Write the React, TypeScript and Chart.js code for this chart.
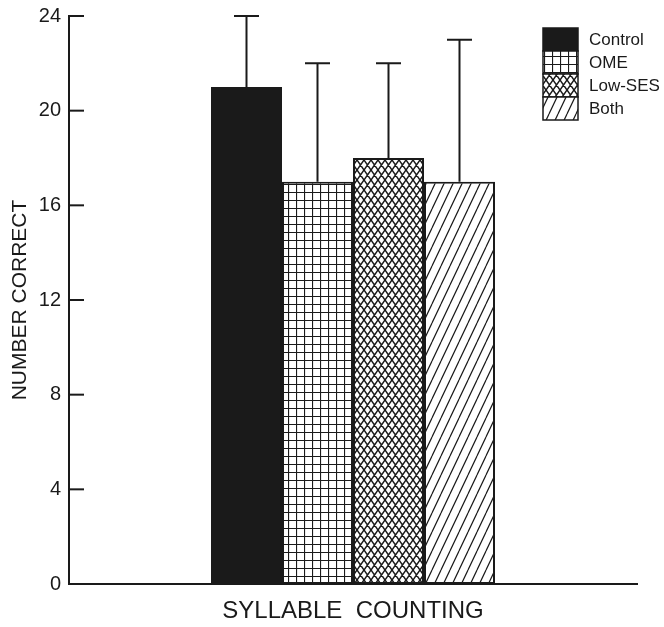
import React, { useEffect, useRef } from "react";
import { Chart, registerables } from "chart.js";

Chart.register(...registerables);

const categories = ["SYLLABLE  COUNTING"];
const groups = ["Control", "OME", "Low-SES", "Both"];
const means = [21, 17, 18, 17];
const errUpper = [3, 5, 4, 6];
const yTicks = [0, 4, 8, 12, 16, 20, 24];

const INK = "#1a1a1a";
const FONT = "'Liberation Sans', Arial, sans-serif";

function makeTile(w: number, h: number, draw: (c: CanvasRenderingContext2D) => void) {
  const cv = document.createElement("canvas");
  cv.width = w;
  cv.height = h;
  const c = cv.getContext("2d")!;
  c.fillStyle = "#fff";
  c.fillRect(0, 0, w, h);
  c.strokeStyle = INK;
  draw(c);
  return cv;
}

function makePatterns(ctx: CanvasRenderingContext2D) {
  const grid = makeTile(8, 8, (c) => {
    c.lineWidth = 1.2;
    c.beginPath();
    c.moveTo(0.5, 0);
    c.lineTo(0.5, 8);
    c.moveTo(0, 0.5);
    c.lineTo(8, 0.5);
    c.stroke();
  });
  const diamond = makeTile(7, 10, (c) => {
    c.lineWidth = 1.5;
    c.beginPath();
    for (const o of [-7, 0, 7]) {
      c.moveTo(o, 0);
      c.lineTo(o + 7, 10);
      c.moveTo(o + 7, 0);
      c.lineTo(o, 10);
    }
    c.stroke();
  });
  const hatch = makeTile(9, 19, (c) => {
    c.lineWidth = 1.2;
    c.beginPath();
    for (const o of [-9, 0, 9]) {
      c.moveTo(o, 19);
      c.lineTo(o + 9, 0);
    }
    c.stroke();
  });
  return [
    INK,
    ctx.createPattern(grid, "repeat")!,
    ctx.createPattern(diamond, "repeat")!,
    ctx.createPattern(hatch, "repeat")!,
  ];
}

const errorBarPlugin = {
  id: "errorBars",
  afterDatasetsDraw(chart: any) {
    const { ctx } = chart;
    const yScale = chart.scales.y;
    ctx.save();
    ctx.strokeStyle = INK;
    ctx.lineWidth = 2;
    chart.data.datasets.forEach((ds: any, i: number) => {
      const meta = chart.getDatasetMeta(i);
      const bar = meta.data[0];
      if (!bar) return;
      const top = yScale.getPixelForValue(ds.data[0] + errUpper[i]);
      ctx.beginPath();
      ctx.moveTo(bar.x, bar.y);
      ctx.lineTo(bar.x, top);
      ctx.moveTo(bar.x - 12.5, top);
      ctx.lineTo(bar.x + 12.5, top);
      ctx.stroke();
    });
    ctx.restore();
  },
};

const innerTicksPlugin = {
  id: "innerTicks",
  afterDraw(chart: any) {
    const { ctx } = chart;
    const yScale = chart.scales.y;
    const left = chart.chartArea.left;
    ctx.save();
    ctx.strokeStyle = INK;
    ctx.lineWidth = 2;
    yScale.ticks.forEach((t: any) => {
      const y = yScale.getPixelForValue(t.value);
      ctx.beginPath();
      ctx.moveTo(left, y);
      ctx.lineTo(left + 15, y);
      ctx.stroke();
    });
    ctx.restore();
  },
};

const legendPlugin = {
  id: "boxLegend",
  afterDraw(chart: any) {
    const { ctx } = chart;
    const x0 = 543;
    const w = 35;
    const y0 = 28;
    const h = 23;
    ctx.save();
    chart.data.datasets.forEach((ds: any, i: number) => {
      const y = y0 + i * h;
      ctx.fillStyle = ds.backgroundColor;
      ctx.fillRect(x0, y, w, h);
      ctx.strokeStyle = INK;
      ctx.lineWidth = 1.5;
      ctx.strokeRect(x0, y, w, h);
      ctx.fillStyle = INK;
      ctx.font = `17px ${FONT}`;
      ctx.textAlign = "left";
      ctx.textBaseline = "middle";
      ctx.fillText(ds.label, x0 + w + 11, y + h / 2 + 1);
    });
    ctx.restore();
  },
};

export default function App() {
  const ref = useRef<HTMLCanvasElement | null>(null);

  useEffect(() => {
    document.body.style.margin = "0";
    const canvas = ref.current!;
    const ctx = canvas.getContext("2d")!;
    const fills = makePatterns(ctx);
    const chart = new Chart(canvas, {
      type: "bar",
      data: {
        labels: categories,
        datasets: groups.map((g, i) => ({
          label: g,
          data: [means[i]],
          backgroundColor: fills[i] as any,
          borderColor: INK,
          borderWidth: 2,
          borderSkipped: false,
          categoryPercentage: 0.5,
          barPercentage: 1.0,
        })),
      },
      options: {
        animation: false,
        responsive: true,
        maintainAspectRatio: false,
        layout: { padding: { top: 16, right: 27, bottom: 0, left: 0 } },
        plugins: {
          legend: { display: false },
          tooltip: { enabled: false },
        },
        scales: {
          x: {
            grid: { display: false, drawTicks: false },
            border: { display: true, color: INK, width: 2 },
            ticks: { display: false },
            title: {
              display: true,
              text: categories[0],
              color: INK,
              font: { family: FONT, size: 24 },
              padding: { top: 0, bottom: 1 },
            },
            afterFit(scale: any) {
              scale.height = 43;
              scale.paddingLeft = 0;
              scale.paddingRight = 0;
            },
          },
          y: {
            min: 0,
            max: 24,
            grid: { display: false, drawTicks: false },
            border: { display: true, color: INK, width: 2 },
            afterBuildTicks(scale: any) {
              scale.ticks = yTicks.map((v) => ({ value: v }));
            },
            ticks: {
              color: INK,
              padding: 8,
              font: { family: FONT, size: 20 },
            },
            title: {
              display: true,
              text: "NUMBER CORRECT",
              color: INK,
              font: { family: FONT, size: 21 },
              padding: { top: 8, bottom: 0 },
            },
            afterFit(scale: any) {
              scale.width = 69;
              scale.paddingTop = 0;
              scale.paddingBottom = 0;
            },
          },
        },
      },
      plugins: [errorBarPlugin, innerTicksPlugin, legendPlugin],
    });
    return () => chart.destroy();
  }, []);

  return (
    <div style={{ width: 664, height: 627, position: "relative", background: "#fff" }}>
      <canvas ref={ref} />
    </div>
  );
}
